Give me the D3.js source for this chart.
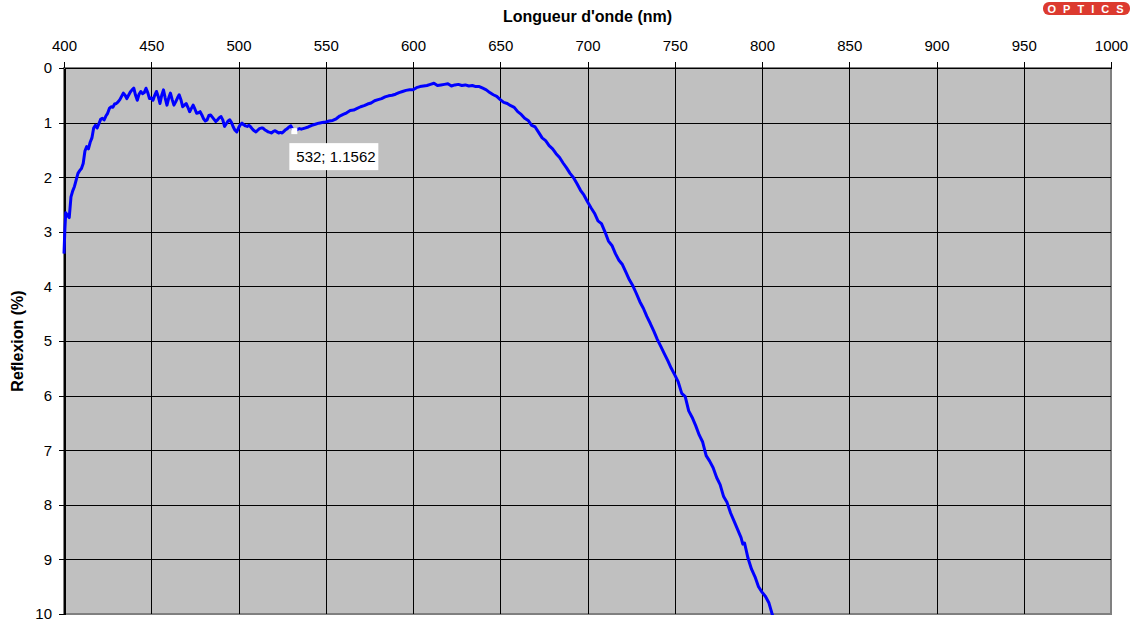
<!DOCTYPE html>
<html>
    <head>
        <style>
body {
  margin: 0;
  background: #fff;
  font-family: Arial, "Liberation Sans", sans-serif;
}

.axis path,
.axis line {
  fill: none;
  stroke: #000;
  shape-rendering: crispEdges;
}

.axis text {
  font: 15px Arial, "Liberation Sans", sans-serif;
  fill: #000;
}

.grid line {
  stroke: #000;
  stroke-width: 1;
  shape-rendering: crispEdges;
}
        </style>
    </head>
<script src="https://d3js.org/d3.v7.min.js"></script>
<body>
  <div id='d3Id'></div>
<script>

// wavelength (nm) ticks, reflection (%) ticks
var xTicks = [400, 450, 500, 550, 600, 650, 700, 750, 800, 850, 900, 950, 1000];
var yTicks = [0, 1, 2, 3, 4, 5, 6, 7, 8, 9, 10];

var wavelength = [400, 400.5, 401, 402, 403, 404, 405, 406, 407, 408, 409, 410, 411, 412, 413, 414, 415, 416, 417, 418, 419,
  420, 421, 422, 423, 424, 425, 426, 427, 428, 429, 430, 431, 432, 433, 434, 435, 436, 437, 438, 439,
  440, 441, 442, 443, 444, 445, 446, 447, 448, 449, 450, 451, 452, 453, 454, 455, 456, 457, 458, 459,
  460, 461, 462, 463, 464, 465, 466, 467, 468, 469, 470, 471, 472, 473, 474, 475, 476, 477, 478, 479,
  480, 481, 482, 483, 484, 485, 486, 487, 488, 489, 490, 491, 492, 493, 494, 495, 496, 497, 498, 499,
  500, 501, 502, 503, 504, 505, 506, 507, 508, 509, 510, 511, 512, 513, 514, 515, 516, 517, 518, 519,
  520, 521, 522, 523, 524, 525, 526, 527, 528, 529, 530, 531, 532, 533, 534, 535, 536, 538,
  540, 542, 544, 546, 548, 550, 552, 554, 556, 558, 560, 562, 564, 566, 568, 570, 572, 574, 576, 578,
  580, 582, 584, 586, 588, 590, 592, 594, 596, 598, 600, 602, 604, 606, 608, 610, 612, 614, 616, 618,
  620, 622, 624, 626, 628, 630, 632, 634, 636, 638, 640, 642, 644, 646, 648, 650, 652, 654, 656, 658,
  660, 662, 664, 666, 668, 670, 672, 674, 676, 678, 680, 682, 684, 686, 688, 690, 692, 694, 696, 698,
  700, 702, 704, 706, 708, 710, 712, 714, 716, 718, 720, 722, 724, 726, 728, 730, 732, 734, 736, 738,
  740, 742, 744, 746, 748, 750, 752, 754, 756, 758, 760, 762, 764, 766, 768, 770, 772, 774, 776, 778,
  780, 782, 784, 786, 788, 789, 790, 792, 794, 796, 798, 800, 802, 804, 806, 808];

var reflexion = [3.40, 2.95, 2.65, 2.70, 2.74, 2.36, 2.25, 2.17, 2.05, 1.93, 1.88, 1.84, 1.75, 1.52, 1.44, 1.48, 1.36, 1.28, 1.10, 1.05, 1.10,
  1.02, 0.94, 0.92, 0.95, 0.88, 0.83, 0.74, 0.71, 0.72, 0.66, 0.65, 0.62, 0.58, 0.52, 0.46, 0.50, 0.56, 0.50, 0.44, 0.40,
  0.37, 0.50, 0.59, 0.48, 0.43, 0.47, 0.45, 0.37, 0.45, 0.56, 0.55, 0.59, 0.50, 0.43, 0.52, 0.65, 0.50, 0.40, 0.55, 0.68,
  0.55, 0.46, 0.58, 0.68, 0.62, 0.55, 0.49, 0.58, 0.71, 0.68, 0.65, 0.72, 0.80, 0.74, 0.68, 0.75, 0.83, 0.82, 0.80, 0.86,
  0.93, 0.97, 0.95, 0.87, 0.86, 0.90, 0.94, 0.98, 0.95, 0.91, 0.89, 0.95, 1.07, 1.02, 0.97, 0.95, 1.00, 1.08, 1.14, 1.17,
  1.10, 1.04, 1.01, 1.04, 1.06, 1.07, 1.05, 1.08, 1.12, 1.15, 1.17, 1.14, 1.11, 1.10, 1.10, 1.13, 1.15, 1.17, 1.18, 1.19,
  1.16, 1.15, 1.17, 1.19, 1.18, 1.19, 1.16, 1.13, 1.11, 1.08, 1.06, 1.12, 1.1562, 1.14, 1.12, 1.11, 1.12, 1.10,
  1.08, 1.05, 1.03, 1.01, 1.00, 0.99, 0.97, 0.96, 0.93, 0.88, 0.85, 0.82, 0.78, 0.77, 0.74, 0.71, 0.69, 0.66, 0.64, 0.60,
  0.58, 0.56, 0.53, 0.51, 0.50, 0.48, 0.45, 0.43, 0.41, 0.40, 0.40, 0.36, 0.34, 0.33, 0.32, 0.30, 0.28, 0.32, 0.31, 0.30,
  0.29, 0.33, 0.31, 0.30, 0.32, 0.31, 0.33, 0.32, 0.34, 0.34, 0.37, 0.40, 0.45, 0.49, 0.52, 0.58, 0.63, 0.65, 0.69, 0.72,
  0.80, 0.85, 0.92, 0.96, 1.05, 1.08, 1.18, 1.28, 1.33, 1.42, 1.48, 1.57, 1.64, 1.74, 1.83, 1.93, 2.01, 2.12, 2.24, 2.33,
  2.45, 2.56, 2.66, 2.80, 2.85, 3.00, 3.17, 3.25, 3.40, 3.52, 3.60, 3.74, 3.88, 3.99, 4.13, 4.28, 4.40, 4.55, 4.68, 4.82,
  4.97, 5.10, 5.23, 5.36, 5.50, 5.62, 5.75, 5.96, 6.02, 6.28, 6.40, 6.55, 6.72, 6.85, 7.10, 7.20, 7.32, 7.50, 7.63, 7.85,
  7.96, 8.15, 8.30, 8.45, 8.60, 8.72, 8.70, 8.98, 9.18, 9.32, 9.50, 9.60, 9.68, 9.80, 10.02, 10.2];

// highlighted data point
var markWl = 532, markVal = 1.1562;

var points = wavelength.map((d, i) => ({wl: d, r: reflexion[i]}));

var width = 1135,
    height = 621,
    margin = {top: 68, right: 24, bottom: 7, left: 64};

var innerW = width - margin.left - margin.right,
    innerH = height - margin.top - margin.bottom;

var svg = d3.select('#d3Id')
  .append("svg")
  .attr("width", width)
  .attr("height", height);

var g = svg.append("g")
  .attr("transform", `translate(${margin.left},${margin.top})`);

var xScale = d3.scaleLinear().domain([400, 1000]).range([0, innerW]);
var yScale = d3.scaleLinear().domain([0, 10]).range([0, innerH]);

/* plot background */
g.append("rect")
  .attr("width", innerW)
  .attr("height", innerH)
  .attr("fill", "#c0c0c0")
  .attr("stroke", "#808080")
  .attr("stroke-width", 2);

/* grid */
var grid = g.append("g").attr("class", "grid");
grid.selectAll(".vx")
  .data(xTicks.slice(1, -1))
  .enter().append("line")
  .attr("x1", d => Math.round(xScale(d)) + 0.5)
  .attr("x2", d => Math.round(xScale(d)) + 0.5)
  .attr("y1", 0)
  .attr("y2", innerH);
grid.selectAll(".hy")
  .data(yTicks.slice(1, -1))
  .enter().append("line")
  .attr("y1", d => Math.round(yScale(d)) + 0.5)
  .attr("y2", d => Math.round(yScale(d)) + 0.5)
  .attr("x1", 0)
  .attr("x2", innerW);

/* axes */
var xAxis = d3.axisTop(xScale).tickValues(xTicks).tickFormat(d3.format("d"))
  .tickSize(6).tickPadding(11).tickSizeOuter(0);
var yAxis = d3.axisLeft(yScale).tickValues(yTicks).tickSize(5).tickPadding(7).tickSizeOuter(0);

g.append("g").attr("class", "x axis").call(xAxis);
g.append("g").attr("class", "y axis").call(yAxis)
  .select(".domain").attr("stroke-width", 2);

/* curve */
g.append("clipPath").attr("id", "clip")
  .append("rect").attr("x", -3).attr("width", innerW + 3).attr("height", innerH + 1);

var line = d3.line()
  .x(d => xScale(d.wl))
  .y(d => yScale(d.r));

g.append("path")
  .datum(points)
  .attr("clip-path", "url(#clip)")
  .attr("fill", "none")
  .attr("stroke", "#0000ff")
  .attr("stroke-width", 3)
  .attr("stroke-linejoin", "round")
  .attr("d", line);

/* data label */
var mx = xScale(markWl), my = yScale(markVal);
g.append("rect")
  .attr("x", mx - 3).attr("y", my - 3)
  .attr("width", 6).attr("height", 6)
  .attr("fill", "#fff");

g.append("rect")
  .attr("x", mx - 5).attr("y", my + 12)
  .attr("width", 89).attr("height", 27)
  .attr("fill", "#fff");

g.append("text")
  .attr("x", mx + 2).attr("y", my + 31)
  .style("font", "15px Arial, 'Liberation Sans', sans-serif")
  .text(markWl + "; " + markVal);

/* axis titles */
svg.append("text")
  .attr("x", margin.left + innerW / 2)
  .attr("y", 22)
  .attr("text-anchor", "middle")
  .style("font", "bold 16px Arial, 'Liberation Sans', sans-serif")
  .text("Longueur d'onde (nm)");

svg.append("text")
  .attr("transform", `translate(23,${margin.top + innerH / 2}) rotate(-90)`)
  .attr("text-anchor", "middle")
  .style("font", "bold 16px Arial, 'Liberation Sans', sans-serif")
  .text("Reflexion (%)");

/* logo */
svg.append("rect")
  .attr("x", 1043).attr("y", 2)
  .attr("width", 87).attr("height", 13)
  .attr("rx", 6)
  .attr("fill", "#dc3a2f");

svg.append("text")
  .attr("x", 1089).attr("y", 13)
  .attr("text-anchor", "middle")
  .style("font", "bold 11px Arial, 'Liberation Sans', sans-serif")
  .style("letter-spacing", "7px")
  .attr("fill", "#fff")
  .text("OPTICS");

</script>

</body>
</html>
